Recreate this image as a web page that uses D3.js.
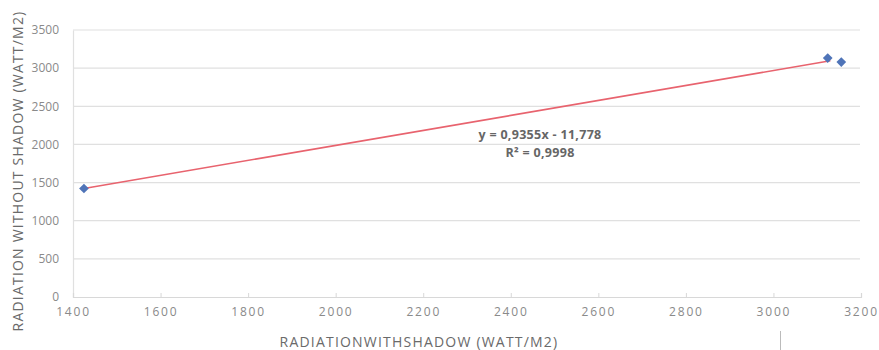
<!DOCTYPE html>
<html>
<head>
<meta charset="utf-8">
<script src="https://cdn.jsdelivr.net/npm/d3@7"></script>
<style>
  html, body { margin: 0; padding: 0; background: #fff; }
  svg { display: block; }
  text { font-family: "Open Sans", "Liberation Sans", sans-serif; }
</style>
</head>
<body>
<svg id="chart" width="879" height="350"></svg>
<script>
// Radiation with shadow (x) vs. without shadow (y), W/m2
const withShadow    = [1425, 3124, 3155];
const withoutShadow = [1422, 3132, 3080];

const xTicks = [1400, 1600, 1800, 2000, 2200, 2400, 2600, 2800, 3000, 3200];
const yTicks = [0, 500, 1000, 1500, 2000, 2500, 3000, 3500];

const trendLabel = ["y = 0,9355x - 11,778", "R² = 0,9998"];
const xTitle = "RADIATIONWITHSHADOW (WATT/M2)";
const yTitle = "RADIATION WITHOUT  SHADOW (WATT/M2)";

const svg = d3.select("#chart");
const plot = { left: 73, right: 861, top: 30, bottom: 297 };

const x = d3.scaleLinear().domain([1400, 3200]).range([plot.left, plot.right]);
const y = d3.scaleLinear().domain([0, 3500]).range([plot.bottom, plot.top]);
const fmt = d3.format("d");

// horizontal gridlines
svg.append("g")
  .selectAll("line")
  .data(yTicks.filter(d => d > 0))
  .join("line")
  .attr("x1", plot.left).attr("x2", plot.right - 1)
  .attr("y1", d => y(d)).attr("y2", d => y(d))
  .attr("stroke", "#e0e0e0").attr("stroke-width", 1.2);

// y axis
const yAxis = svg.append("g")
  .attr("transform", `translate(${plot.left},0)`)
  .call(d3.axisLeft(y).tickValues(yTicks).tickFormat(fmt).tickSize(0).tickPadding(14));
yAxis.select(".domain").attr("stroke", "#e0e0e0").attr("stroke-width", 1.2);
yAxis.selectAll("text").attr("fill", "#8a8a8a").style("font-size", "12px");

// x axis
const xAxis = svg.append("g")
  .attr("transform", `translate(0,${plot.bottom})`)
  .call(d3.axisBottom(x).tickValues(xTicks).tickFormat(fmt).tickSize(-4).tickPadding(10));
xAxis.select(".domain").attr("stroke", "#d8d8d8").attr("stroke-width", 1.2);
xAxis.selectAll(".tick line").attr("stroke", "#d8d8d8");
xAxis.selectAll("text").attr("fill", "#8a8a8a").style("font-size", "12px")
  .style("letter-spacing", "1.8px");

// least-squares trendline over the data
const n = withShadow.length;
const mx = d3.mean(withShadow), my = d3.mean(withoutShadow);
let sxy = 0, sxx = 0;
for (let i = 0; i < n; i++) {
  sxy += (withShadow[i] - mx) * (withoutShadow[i] - my);
  sxx += (withShadow[i] - mx) ** 2;
}
const slope = sxy / sxx, icpt = my - slope * mx;
const xr = d3.extent(withShadow);
svg.append("line")
  .attr("x1", x(xr[0])).attr("y1", y(slope * xr[0] + icpt))
  .attr("x2", x(xr[1] - 25)).attr("y2", y(slope * (xr[1] - 25) + icpt))
  .attr("stroke", "#e8636e").attr("stroke-width", 1.6);

// diamond markers
const diamond = d3.symbol().type(d3.symbolDiamond2).size(60);
svg.append("g")
  .selectAll("path")
  .data(withShadow.map((v, i) => [v, withoutShadow[i]]))
  .join("path")
  .attr("d", diamond)
  .attr("transform", d => `translate(${x(d[0])},${y(d[1])})`)
  .attr("fill", "#4f74b8");

// trend equation
svg.append("g")
  .selectAll("text")
  .data(trendLabel)
  .join("text")
  .attr("x", 540).attr("y", (d, i) => 139 + i * 18)
  .attr("text-anchor", "middle")
  .attr("fill", "#666")
  .style("font-size", "12.5px").style("font-weight", "bold")
  .style("letter-spacing", "0.3px")
  .text(d => d);

// axis titles
svg.append("text")
  .attr("x", 419).attr("y", 347)
  .attr("text-anchor", "middle")
  .attr("fill", "#6a6a6a")
  .style("font-size", "14px")
  .style("letter-spacing", "1.2px")
  .text(xTitle);

svg.append("text")
  .attr("transform", "translate(23,171) rotate(-90)")
  .attr("text-anchor", "middle")
  .attr("fill", "#6a6a6a")
  .style("font-size", "14px")
  .style("letter-spacing", "1.2px")
  .text(yTitle);

// small marker line under the 3000 tick
svg.append("line")
  .attr("x1", 780.5).attr("x2", 780.5).attr("y1", 331).attr("y2", 350)
  .attr("stroke", "#bbb").attr("stroke-width", 1);
</script>
</body>
</html>
